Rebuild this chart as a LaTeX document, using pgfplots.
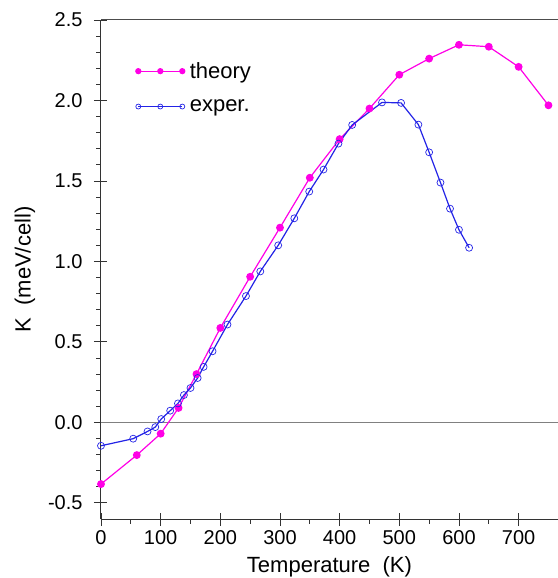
\documentclass[border=0pt]{standalone}
\usepackage{pgfplots}
\pgfplotsset{compat=1.18}
\usepackage{fontspec}
\setmainfont{Liberation Sans}
\usetikzlibrary{calc}
\definecolor{theo}{RGB}{255,0,230}
\definecolor{expc}{RGB}{35,35,230}
\begin{document}
\begin{tikzpicture}[x=1pt,y=1pt]
\begin{axis}[name=ax,
  scale only axis, width=457pt, height=499pt,
  xmin=0, xmax=766, ymin=-0.6, ymax=2.5,
  axis x line*=bottom, axis y line*=left,
  xtick={0,100,...,700}, minor x tick num=1,
  ytick={-0.5,0,0.5,1,1.5,2,2.5}, minor y tick num=4,
  yticklabel style={xshift=-2pt, /pgf/number format/.cd,fixed,fixed zerofill,precision=1},
  /pgf/number format/assume math mode=true,
  tick align=outside,
  major tick length=13pt, minor tick length=4.5pt,
  every major x tick/.style={yshift=6pt},
  every major y tick/.style={xshift=6pt},
  axis line style={black!80, line width=1pt},
  every tick/.style={black!80, line width=0.9pt},
  tick label style={font=\fontsize{20}{20}\selectfont},
  xticklabel style={yshift=5pt},
  label style={font=\fontsize{22}{22}\selectfont},
  xlabel={Temperature\ \ (K)},
  ylabel={K\ \ (meV/cell)},
  xlabel style={yshift=-5pt},
  ylabel style={yshift=6pt},
  legend cell align=left,
  legend style={at={(axis cs:58,2.25)}, anchor=north west, draw=none, fill=none,
    font=\fontsize{22}{22}\selectfont, row sep=16pt, column sep=3pt, inner sep=0pt},
  legend image code/.code={\draw[mark repeat=1,mark phase=1,#1,mark size=2.5pt] plot coordinates {(0pt,0pt) (22pt,0pt) (44pt,0pt)};},
]
\draw[black!70, line width=1pt] (rel axis cs:0,1) -- (rel axis cs:1,1);
\addplot[gray, line width=0.9pt, forget plot] coordinates {(0,0) (800,0)};
\addplot[theo, line width=1.2pt, mark=*, mark size=3.3pt, mark options={fill=theo}] coordinates {
(0,-0.383) (60,-0.203) (100,-0.07) (130,0.09) (160,0.30) (200,0.587) (250,0.905) (300,1.21)
(350,1.52) (400,1.76) (450,1.95) (500,2.16) (550,2.26) (600,2.346) (650,2.334) (700,2.209) (750,1.97)};
\addlegendentry{theory}
\addplot[expc, line width=1.2pt, mark=o, mark size=3.5pt, mark options={line width=0.7pt}] coordinates {
(0,-0.145) (54,-0.101) (78,-0.056) (91,-0.029) (101,0.021) (116,0.073) (129,0.118) (139,0.17)
(150,0.214) (162,0.276) (172,0.345) (187,0.442) (212,0.608) (243,0.785) (267,0.938) (297,1.10)
(324,1.268) (349,1.434) (373,1.571) (398,1.732) (421,1.848) (471,1.988) (503,1.985) (532,1.85)
(550,1.678) (569,1.49) (585,1.328) (600,1.197) (617,1.085)};
\addlegendentry{exper.}
\end{axis}
\pgfresetboundingbox
\path ($(ax.south west)+(-101pt,-59pt)$) rectangle ($(ax.north east)+(0pt,20pt)$);
\end{tikzpicture}
\end{document}
